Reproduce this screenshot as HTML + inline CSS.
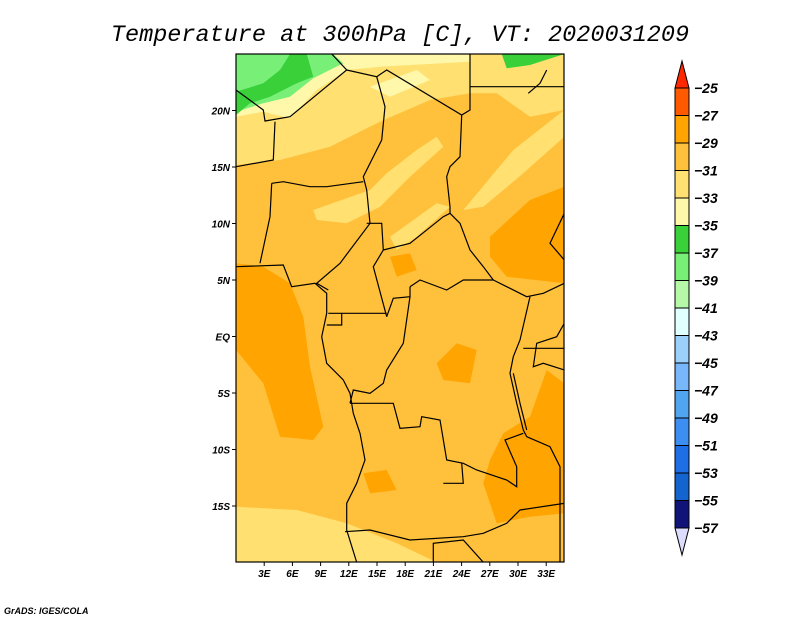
<!DOCTYPE html>
<html><head><meta charset="utf-8">
<style>
html,body{margin:0;padding:0;background:#fff;}
#wrap{position:relative;width:800px;height:618px;overflow:hidden;}
svg text{font-family:"Liberation Sans",sans-serif;}
</style></head>
<body>
<div id="wrap">
<svg id="svg" width="800" height="618" viewBox="0 0 800 618" xmlns="http://www.w3.org/2000/svg">
<text x="400" y="41" text-anchor="middle" font-family="Liberation Mono, monospace" font-style="italic" font-size="23.5" fill="#000" style="font-family:'Liberation Mono',monospace">Temperature at 300hPa [C], VT: 2020031209</text>
<g id="map"></g>
<g id="axes"></g>
<g id="cbar"></g>
<text x="4" y="614" font-size="9" font-weight="bold" font-style="italic">GrADS: IGES/COLA</text>
</svg>
</div>
<script>
// colorbar data
const levels = [-25,-27,-29,-31,-33,-35,-37,-39,-41,-43,-45,-47,-49,-51,-53,-55,-57];
const boxColors = ["#ff5a00","#ffa400","#ffc13c","#ffe070","#fff7aa","#3ad03a","#78f078","#b4f8a8","#e0ffff","#9ad0fa","#78b8fa","#50a4f0","#3c8ff0","#1e6ee6","#1464d0","#101478"];
const topColor = "#ff2800", bottomColor = "#dcdcff";
// axis tick labels
const latTicks = [20,15,10,5,0,-5,-10,-15];
const lonTicks = [3,6,9,12,15,18,21,24,27,30,33];

const NS="http://www.w3.org/2000/svg";
function mk(tag,attrs,parent){const e=document.createElementNS(NS,tag);for(const k in attrs)e.setAttribute(k,attrs[k]);(parent||document.getElementById('svg')).appendChild(e);return e;}
// map projection
const X0=236,X1=564,Y0=54,Y1=562,LON0=0,LAT0=25,PXLON=9.4,PXLAT=11.3;
function xLon(l){return X0+(l-LON0)*PXLON;}
function yLat(l){return Y0+(LAT0-l)*PXLAT;}
function z(p){return p.map(([x,y])=>(230+x/3).toFixed(1)+","+(50+y/3).toFixed(1)).join(" ");}

const map=document.getElementById('map');
const clip=mk('clipPath',{id:'mc'},map);mk('rect',{x:X0,y:Y0,width:X1-X0,height:Y1-Y0},clip);
const g=mk('g',{'clip-path':'url(#mc)'},map);
mk('rect',{x:X0,y:Y0,width:X1-X0,height:Y1-Y0,fill:"#ffc13c"},g);
const regions=[
 ["#ffe070",[[18,12],[1003,12],[1003,180],[900,200],[800,130],[720,130],[600,150],[450,215],[300,290],[150,330],[18,345]]],
 ["#ffe070",[[250,480],[420,420],[470,370],[560,300],[620,260],[640,290],[540,380],[450,470],[350,520],[260,510]]],
 ["#ffe070",[[700,480],[850,300],[1003,180],[1003,260],[880,370],[760,470]]],
 ["#ffe070",[[480,560],[620,460],[660,470],[560,560],[500,600]]],
 ["#ffe070",[[18,1370],[200,1380],[350,1420],[500,1480],[620,1537],[18,1537]]],
 ["#fff7aa",[[18,200],[100,185],[180,205],[260,120],[350,60],[450,50],[720,35],[720,12],[18,12]]],
 ["#fff7aa",[[420,110],[560,60],[600,90],[480,140]]],
 ["#78f078",[[18,12],[310,12],[340,40],[250,85],[180,140],[100,160],[18,185]]],
 ["#3ad03a",[[18,125],[18,195],[60,160],[120,140],[200,100],[250,80],[230,12],[180,12],[150,60],[100,100]]],
 ["#3ad03a",[[815,12],[1003,12],[900,45],[830,55]]],
 ["#ffa400",[[1003,410],[900,450],[780,560],[780,620],[830,680],[1003,700]]],
 ["#ffa400",[[1003,1000],[950,960],[900,1100],[820,1150],[780,1230],[760,1300],[800,1420],[900,1400],[1003,1390]]],
 ["#ffa400",[[18,640],[100,650],[180,700],[220,800],[240,950],[280,1130],[250,1170],[150,1160],[100,1000],[18,900]]],
 ["#ffa400",[[620,940],[680,880],[740,900],[720,1000],[640,990]]],
 ["#ffa400",[[400,1270],[470,1260],[500,1320],[420,1330]]],
 ["#ffa400",[[480,620],[540,610],[560,660],[500,680]]]
];
regions.forEach(([c,p],i)=>{const e=mk('polygon',{points:z(p),fill:c},g);

});
const lines=[
 [[18,650],[160,645],[185,710],[255,700],[290,730],[290,790],[275,860],[290,940],[340,990],[360,1030],[370,1090],[390,1150],[405,1230],[380,1300],[350,1360],[350,1440],[380,1537]],
 [[18,120],[100,180],[105,213],[180,200],[350,60],[305,12]],
 [[350,60],[440,80],[470,60],[695,195],[720,180],[720,12]],
 [[720,110],[1003,110]],
 [[440,80],[465,170],[455,270],[400,380],[410,420]],
 [[135,215],[130,330],[18,350]],
 [[125,400],[160,395],[240,410],[290,410],[400,395]],
 [[125,400],[120,500],[90,640]],
 [[410,420],[420,520],[330,640],[260,700],[295,720]],
 [[410,520],[455,520],[460,600],[430,650],[470,800]],
 [[460,600],[540,580],[640,500],[660,490]],
 [[695,195],[690,320],[660,350],[650,380],[660,470],[660,490]],
 [[660,490],[690,520],[720,600],[760,650],[790,690]],
 [[540,710],[570,690],[650,720],[700,690],[790,690]],
 [[470,800],[490,745],[540,740],[540,710]],
 [[790,690],[830,710],[890,740],[940,730],[1003,700]],
 [[1003,490],[960,580],[1003,630]],
 [[295,790],[470,790]],[[290,825],[335,825],[335,790]],
 [[540,740],[520,880],[470,960],[460,1000],[420,1030],[370,1020],[360,1060]],
 [[360,1060],[490,1060],[510,1135],[570,1130],[575,1100],[630,1110],[650,1230],[700,1240],[740,1260],[830,1290],[860,1310],[860,1250],[825,1170],[880,1150]],
 [[640,1300],[700,1300],[695,1240]],
 [[345,1445],[420,1440],[540,1470],[700,1460],[760,1450],[830,1420],[870,1380],[1003,1360]],
 [[610,1537],[610,1480],[700,1470],[760,1537]],
 [[900,740],[870,870],[850,920],[840,970],[860,1060],[880,1140],[890,1160]],
 [[850,970],[870,1060],[890,1140]],
 [[890,1160],[960,1190],[990,1250],[990,1537]],
 [[880,895],[1003,895]],[[1003,820],[980,860],[920,880],[910,950],[940,940],[1003,960]],
 [[950,60],[930,100],[895,130]]
];
lines.forEach(p=>{const e=mk('polyline',{points:z(p),fill:"none",stroke:"#000","stroke-width":1.2},g);

});
const fr=mk('rect',{x:X0,y:Y0,width:X1-X0,height:Y1-Y0,fill:"none",stroke:"#000","stroke-width":1.2},map);



const ax=document.getElementById('axes');
latTicks.forEach(l=>{const y=yLat(l);
mk('line',{x1:X0-4,x2:X0,y1:y,y2:y,stroke:"#000"},ax);
const t=mk('text',{x:X0-6,y:y+4,'text-anchor':'end','font-size':10,'font-weight':'bold','font-style':'italic'},ax);
t.textContent=l===0?"EQ":(Math.abs(l)+(l>0?"N":"S"));

});
lonTicks.forEach(l=>{const x=xLon(l);
mk('line',{x1:x,x2:x,y1:Y1,y2:Y1+4,stroke:"#000"},ax);
const t=mk('text',{x:x,y:Y1+15,'text-anchor':'middle','font-size':10,'font-weight':'bold','font-style':'italic'},ax);
t.textContent=l+"E";

});

const cb=document.getElementById('cbar');
const CX0=675,CX1=689,CB0=88,BH=27.5;
function yLev(i){return CB0+i*BH;}
const tt=mk('polygon',{points:`${CX0},${CB0} ${CX1},${CB0} ${(CX0+CX1)/2},61`,fill:topColor,stroke:"#000"},cb);


boxColors.forEach((c,i)=>{const r=mk('rect',{x:CX0,y:yLev(i),width:CX1-CX0,height:BH,fill:c,stroke:"#000","stroke-width":1},cb);

});
const yb=yLev(boxColors.length);
const bt=mk('polygon',{points:`${CX0},${yb} ${CX1},${yb} ${(CX0+CX1)/2},${yb+27}`,fill:bottomColor,stroke:"#000"},cb);


levels.forEach((v,i)=>{const t=mk('text',{x:694,y:yLev(i)+5,'font-size':14,'font-weight':'bold','font-style':'italic'},cb);
t.textContent="\u2212"+Math.abs(v);

});
</script>
</body></html>
